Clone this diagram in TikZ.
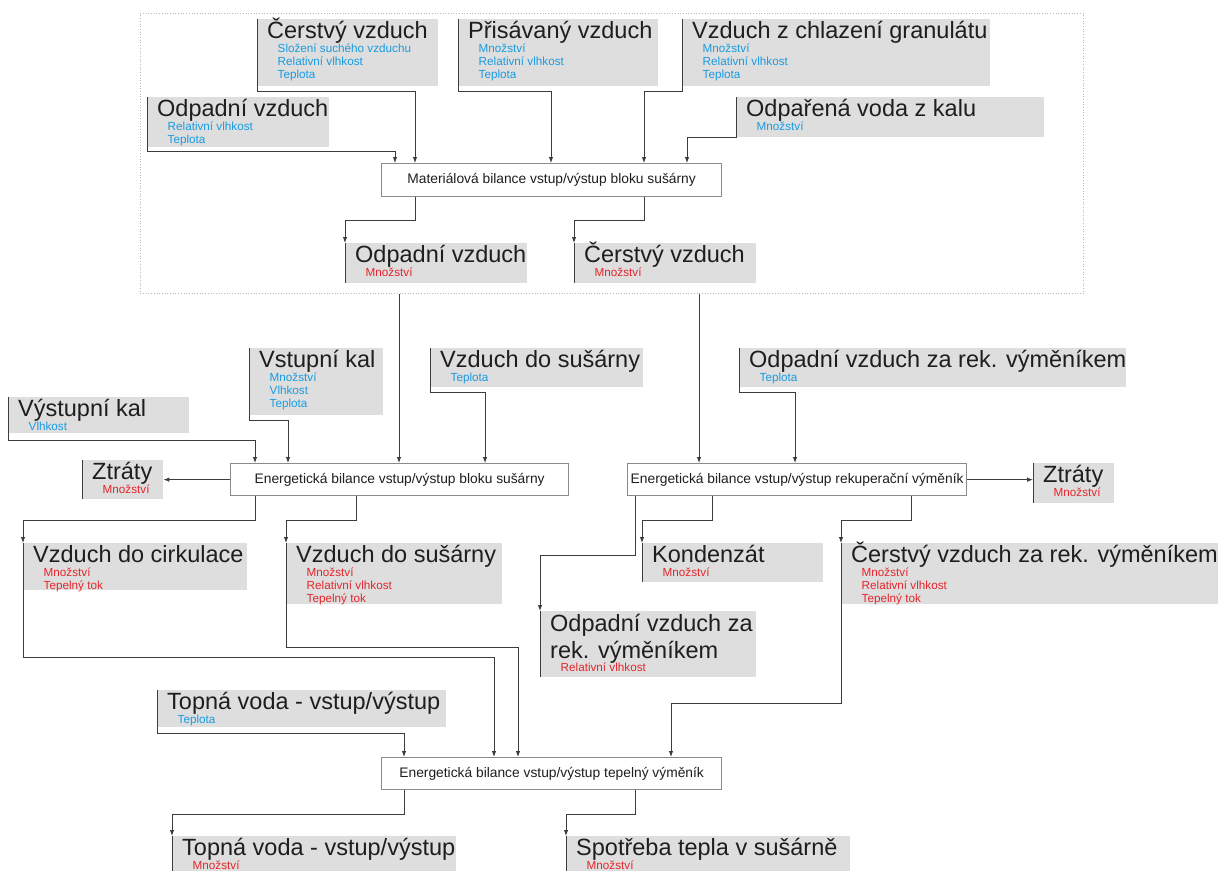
\documentclass[tikz,border=0pt]{standalone}
\usepackage{fontspec}
\setmainfont{Liberation Sans}
\usetikzlibrary{arrows.meta,calc}
\definecolor{qgray}{HTML}{DEDEDE}
\definecolor{qline}{HTML}{3C3C3C}
\definecolor{qblue}{HTML}{1A9BE0}
\definecolor{qred}{HTML}{E3262C}
\definecolor{qbord}{HTML}{8A8A8A}
\definecolor{qtext}{HTML}{1E1E1E}
\tikzset{
 qfill/.style={fill=qgray, draw=none, inner sep=0pt, anchor=north west},
 qtitle/.style={font=\fontsize{23.5}{27}\selectfont, text=qtext, inner sep=0pt, anchor=base west},
 qsub/.style={font=\fontsize{11.7}{13}\selectfont, inner sep=0pt, anchor=base west},
 bil/.style={draw=qbord, line width=1.3pt, fill=white, inner sep=0pt, anchor=north west, text=qtext, font=\fontsize{13.8}{16}\selectfont},
 conn/.style={draw=qline, line width=0.9pt},
 arr/.style={conn, -{Latex[length=6pt,width=4.5pt]}},
 lb/.style={draw=qline, line width=0.9pt},
 frm/.style={draw=gray!55, dotted, line width=0.7pt, inner sep=0pt, anchor=north west},
}
\newcommand\qqbox[8]{%
  \node[qfill, minimum width=#4pt, minimum height=#5pt] (#1) at (#2,#3) {};
  \node[qtitle] (#1-t) at ([xshift=10pt,yshift=-19pt]#1.north west) {#6};
  \foreach \s [count=\i] in {#8} {
    \node[qsub, text=#7] (#1-s\i) at ([xshift=20.5pt,yshift={-33pt-13pt*(\i-1)}]#1.north west) {\s};
  }%
}
\begin{document}
\begin{tikzpicture}[x=1pt,y=-1pt]
\useasboundingbox (0,0) rectangle (1226,870);
\clip (0,0) rectangle (1226,870);
% frame
\node[frm, minimum width=943pt, minimum height=280pt] (frame) at (140,13) {};
% top block
\qqbox{cv}{257}{19}{181}{67}{Čerstvý vzduch}{qblue}{Složení suchého vzduchu,Relativní vlhkost,Teplota}
\qqbox{pv}{458}{19}{200}{67}{Přisávaný vzduch}{qblue}{Množství,Relativní vlhkost,Teplota}
\qqbox{vg}{682}{19}{308}{67}{Vzduch z chlazení granulátu}{qblue}{Množství,Relativní vlhkost,Teplota}
\qqbox{oa}{147}{97}{182}{50}{Odpadní vzduch}{qblue}{Relativní vlhkost,Teplota}
\qqbox{ok}{736}{97}{308}{40}{Odpařená voda z kalu}{qblue}{Množství}
\node[bil, minimum width=340pt, minimum height=33pt] (mat) at (381,163) {Materiálová bilance vstup/výstup bloku sušárny};
\qqbox{ob}{345}{243}{182}{40}{Odpadní vzduch}{qred}{Množství}
\qqbox{cb}{574}{243}{182}{40}{Čerstvý vzduch}{qred}{Množství}
% middle
\qqbox{vk}{8}{397}{181}{36}{Výstupní kal}{qblue}{Vlhkost}
\qqbox{sk}{249}{348}{134}{67}{Vstupní kal}{qblue}{Množství,Vlhkost,Teplota}
\qqbox{vs}{430}{348}{213}{39}{Vzduch do sušárny}{qblue}{Teplota}
\qqbox{or}{739}{348}{387}{39}{Odpadní vzduch za rek. výměníkem}{qblue}{Teplota}
\qqbox{zl}{82}{460}{81}{39}{Ztráty}{qred}{Množství}
\qqbox{zr}{1033}{463}{81}{40}{Ztráty}{qred}{Množství}
\node[bil, minimum width=338pt, minimum height=32pt] (es) at (230,463) {Energetická bilance vstup/výstup bloku sušárny};
\node[bil, minimum width=339pt, minimum height=32pt] (rk) at (627,463) {Energetická bilance vstup/výstup rekuperační výměník};
\qqbox{vc}{23}{543}{224}{47}{Vzduch do cirkulace}{qred}{Množství,Tepelný tok}
\qqbox{vd}{286}{543}{216}{61}{Vzduch do sušárny}{qred}{Množství,Relativní vlhkost,Tepelný tok}
\qqbox{kd}{642}{543}{181}{39}{Kondenzát}{qred}{Množství}
\qqbox{cr}{841}{543}{377}{61}{Čerstvý vzduch za rek. výměníkem}{qred}{Množství,Relativní vlhkost,Tepelný tok}
\node[qfill, minimum width=216pt, minimum height=66pt] (oz) at (540,611) {};
\node[qtitle] (oz-t1) at ([xshift=10pt,yshift=-20pt]oz.north west) {Odpadní vzduch za};
\node[qtitle] (oz-t2) at ([xshift=10pt,yshift=-47pt]oz.north west) {rek. výměníkem};
\node[qsub, text=qred] (oz-s1) at ([xshift=20.5pt,yshift=-60pt]oz.north west) {Relativní vlhkost};
% bottom
\qqbox{tw}{157}{690}{289}{37}{Topná voda - vstup/výstup}{qblue}{Teplota}
\node[bil, minimum width=340pt, minimum height=32pt] (tv) at (381,757) {Energetická bilance vstup/výstup tepelný výměník};
\qqbox{tb}{172}{836}{284}{40}{Topná voda - vstup/výstup}{qred}{Množství}
\qqbox{sp}{566}{836}{284}{40}{Spotřeba tepla v sušárně}{qred}{Množství}
% connectors top
\draw[arr] (oa.north west) -- ++(0,54) -| (mat.north -| 395,0);
\draw[arr] (cv.north west) -- ++(0,72) -| (mat.north -| 415,0);
\draw[arr] (pv.north west) -- ++(0,72) -| (mat.north -| 551,0);
\draw[arr] (vg.north west) -- ++(0,72) -| (mat.north -| 644,0);
\draw[arr] (ok.north west) -- ++(0,40) -| (mat.north -| 687,0);
\draw[arr] (mat.south -| 415,0) -- ++(0,23) -| (ob.north west);
\draw[arr] (mat.south -| 644,0) -- ++(0,23) -| (cb.north west);
\draw[lb] (ob.north west) -- (ob.south west);
\draw[lb] (cb.north west) -- (cb.south west);
% middle connectors
\draw[arr] (frame.south -| 399,0) -- (es.north -| 399,0);
\draw[arr] (frame.south -| 699,0) -- (rk.north -| 699,0);
\draw[arr] (vk.north west) -- ++(0,43) -| (es.north -| 255,0);
\draw[arr] (sk.north west) -- ++(0,72) -| (es.north -| 288,0);
\draw[arr] (vs.north west) -- ++(0,44) -| (es.north -| 485,0);
\draw[arr] (or.north west) -- ++(0,44) -| (rk.north -| 795,0);
\draw[arr] (es.west) -- (es.west -| zl.east);
\draw[arr] (rk.east) -- (rk.east -| zr.west);
\draw[lb] (zl.north west) -- (zl.south west);
\draw[lb] (zr.north west) -- (zr.south west);
\draw[arr] (es.south -| 255,0) -- ++(0,24) -| (vc.north west);
\draw[arr] (es.south -| 356,0) -- ++(0,24) -| (vd.north west);
\draw[arr] (rk.south -| 635,0) -- ++(0,59) -| (oz.north west);
\draw[arr] (rk.south -| 712,0) -- ++(0,24) -| (kd.north west);
\draw[arr] (rk.south -| 911,0) -- ++(0,24) -| (cr.north west);
\draw[lb] (kd.north west) -- (kd.south west);
\draw[lb] (oz.north west) -- (oz.south west);
% to heat exchanger
\draw[arr] (vc.north west) -- (vc.north west |- 0,657) -| (tv.north -| 494,0);
\draw[arr] (vd.north west) -- (vd.north west |- 0,647) -| (tv.north -| 518,0);
\draw[arr] (cr.north west) -- (cr.north west |- 0,703) -| (tv.north -| 671,0);
\draw[arr] (tw.north west) -- ++(0,43) -| (tv.north -| 404,0);
\draw[arr] (tv.south -| 404,0) -- ++(0,24) -| (tb.north west);
\draw[arr] (tv.south -| 635,0) -- ++(0,24) -| (sp.north west);
\draw[lb] (tb.north west) -- (tb.south west);
\draw[lb] (sp.north west) -- (sp.south west);
\end{tikzpicture}
\end{document}
